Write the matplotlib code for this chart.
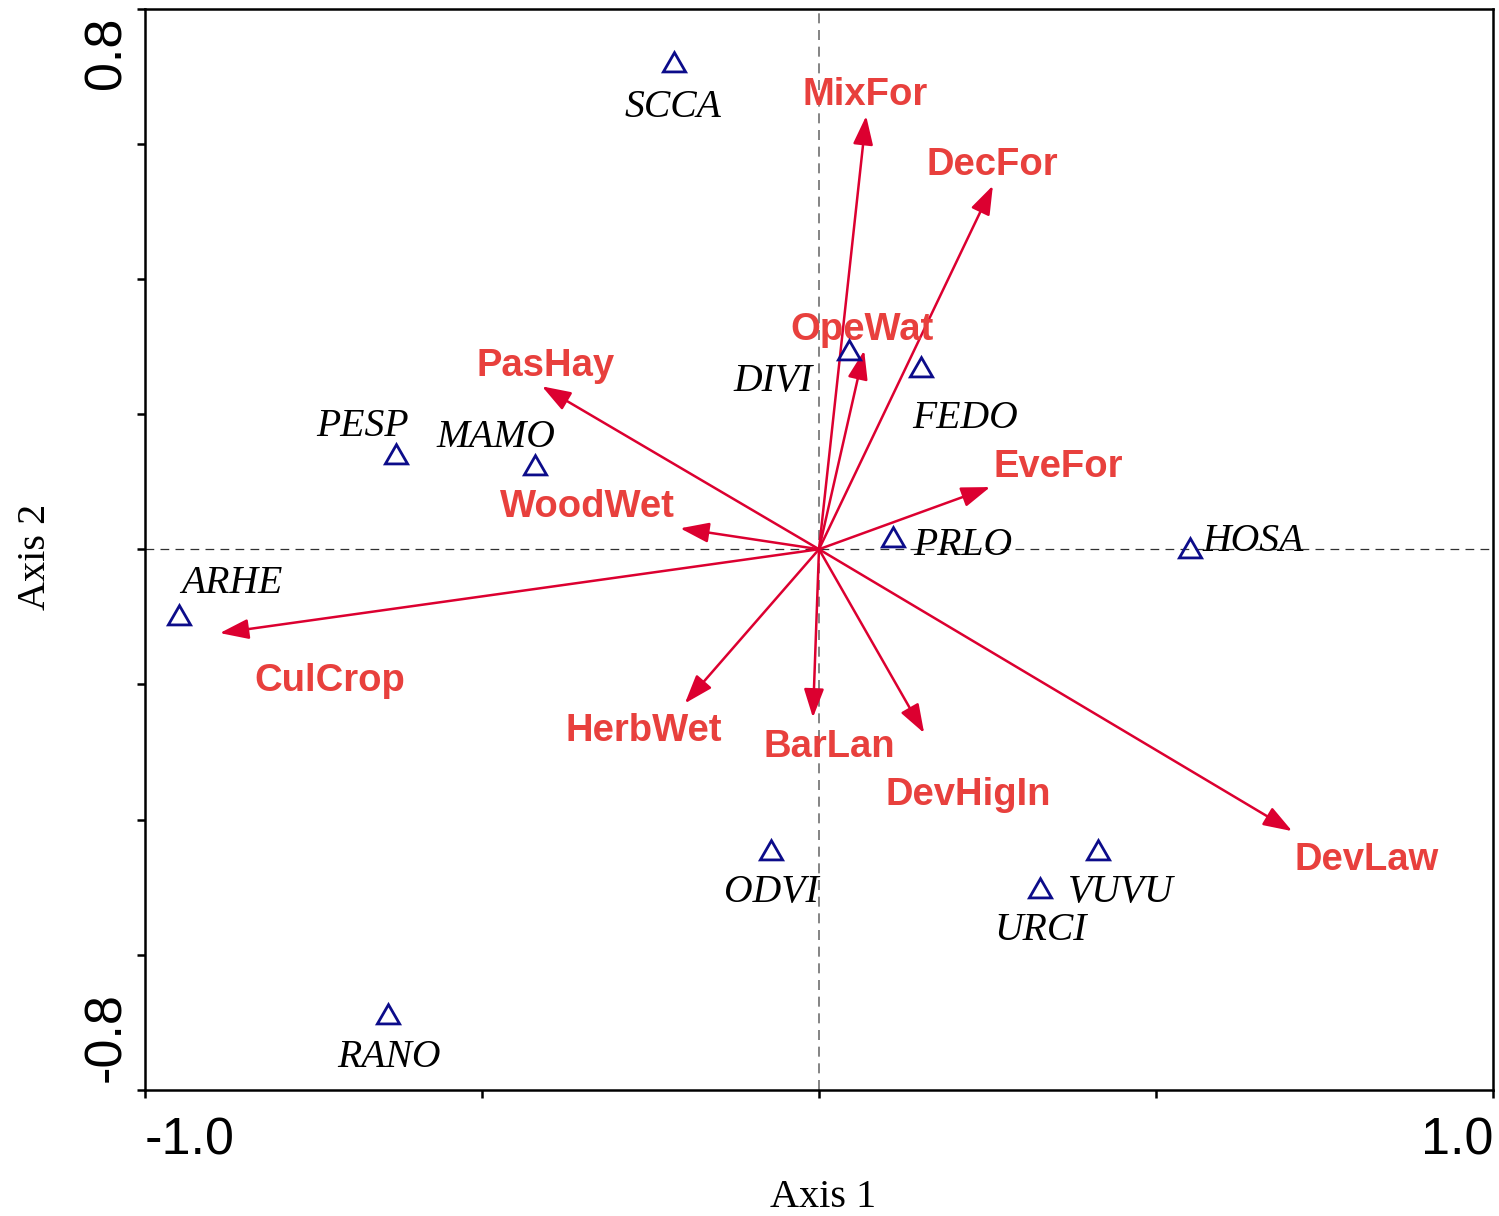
import numpy as np
import matplotlib.pyplot as plt
from matplotlib.transforms import ScaledTranslation

# -----------------------------
# Data
# -----------------------------

# species scores (triangles)
species = ["SCCA", "DIVI", "FEDO", "PESP", "MAMO", "PRLO",
           "HOSA", "ARHE", "ODVI", "VUVU", "URCI", "RANO"]
sp_x = [-0.215, 0.044, 0.151, -0.627, -0.422, 0.110,
        0.550, -0.950, -0.071, 0.414, 0.328, -0.639]
sp_y = [0.717, 0.290, 0.265, 0.136, 0.120, 0.013,
        -0.002, -0.102, -0.450, -0.450, -0.506, -0.692]
# label anchors (baseline, centred)
sp_lab_x = [-0.217, -0.068, 0.217, -0.677, -0.479, 0.214,
            0.644, -0.871, -0.071, 0.448, 0.329, -0.638]
sp_lab_y = [0.639, 0.234, 0.180, 0.167, 0.151, -0.009,
            -0.003, -0.065, -0.522, -0.522, -0.578, -0.766]

# environmental vectors (arrow tips)
env = ["MixFor", "DecFor", "OpeWat", "EveFor", "WoodWet", "PasHay",
       "CulCrop", "HerbWet", "BarLan", "DevHigIn", "DevLaw"]
env_x = [0.070, 0.258, 0.067, 0.254, -0.206, -0.411,
         -0.889, -0.199, -0.009, 0.156, 0.702]
env_y = [0.641, 0.538, 0.294, 0.092, 0.031, 0.241,
         -0.124, -0.228, -0.249, -0.272, -0.417]
env_lab_x = [0.068, 0.257, 0.064, 0.355, -0.343, -0.405,
             -0.726, -0.260, 0.015, 0.221, 0.813]
env_lab_y = [0.657, 0.553, 0.309, 0.107, 0.047, 0.257,
             -0.210, -0.283, -0.308, -0.379, -0.475]

xticks = [-1.0, -0.5, 0.0, 0.5, 1.0]
xticklabels = ["-1.0", "", "", "", "1.0"]
yticks = [-0.8, -0.6, -0.4, -0.2, 0.0, 0.2, 0.4, 0.6, 0.8]
yticklabels = ["-0.8", "", "", "", "", "", "", "", "0.8"]

ARROW_C = "#DC0030"
LABEL_C = "#E8403D"
TRI_C = "#0C0C8A"

fig = plt.figure(figsize=(14.99, 12.16), dpi=100)
ax = fig.add_axes([145 / 1499, 126 / 1216, 1348 / 1499, 1081.5 / 1216])
ax.set_xlim(-1.0, 1.0)
ax.set_ylim(-0.8, 0.8)

# zero lines
ax.axvline(0.0, color="#707070", lw=1.2, dashes=(6, 4), zorder=1)
ax.axhline(0.0, color="#303030", lw=0.9, dashes=(7, 5), zorder=1)

# environmental arrows
for tx, ty in zip(env_x, env_y):
    ax.annotate("", xy=(tx, ty), xytext=(0.0, 0.0),
                arrowprops=dict(arrowstyle="-|>,head_length=0.8,head_width=0.28",
                                color=ARROW_C, lw=1.8, shrinkA=0, shrinkB=0,
                                mutation_scale=22),
                zorder=3)

for name, lx, ly in zip(env, env_lab_x, env_lab_y):
    ax.text(lx, ly, name, color=LABEL_C, fontsize=27.5, fontweight="bold",
            family="Liberation Sans", ha="center", va="baseline", zorder=4)

# species
ax.plot(sp_x, sp_y, linestyle="none", marker=(3, 0, 0), ms=18.5,
        mfc="none", mec=TRI_C, mew=2.0, zorder=5)
for name, lx, ly in zip(species, sp_lab_x, sp_lab_y):
    ax.text(lx, ly, name, color="black", fontsize=28.5, style="italic",
            family="Liberation Serif", ha="center", va="baseline", zorder=4)

# axes cosmetics
for s in ax.spines.values():
    s.set_linewidth(1.8)

ax.set_xticks(xticks)
ax.set_xticklabels(xticklabels, family="Liberation Sans", fontsize=37.5)
ax.set_yticks(yticks)
ax.set_yticklabels(yticklabels, family="Liberation Sans", fontsize=37.5)
ax.tick_params(axis="x", direction="out", length=6, width=1.8, pad=13)
ax.tick_params(axis="y", direction="out", length=6, width=1.8, pad=4)

xl = ax.get_xticklabels()
xl[0].set_ha("left")
xl[-1].set_ha("right")
for t in ax.get_yticklabels():
    t.set_rotation(90)
    t.set_rotation_mode("default")
yl = ax.get_yticklabels()
yl[0].set_va("bottom")
yl[-1].set_va("top")
# end labels sit a little inside the axis limits
shift = 8 / 100
yl[0].set_transform(yl[0].get_transform() + ScaledTranslation(0, shift, fig.dpi_scale_trans))
yl[-1].set_transform(yl[-1].get_transform() + ScaledTranslation(0, -shift, fig.dpi_scale_trans))

ax.set_xlabel("Axis 1", family="Liberation Serif", fontsize=29)
ax.xaxis.set_label_coords(0.503, -0.108)
ax.xaxis.label.set_va("baseline")
ax.set_ylabel("Axis 2", family="Liberation Serif", fontsize=29)
ax.yaxis.set_label_coords(-0.0742, 0.493)
ax.yaxis.label.set_va("baseline")

fig.savefig("out.png", dpi=100)
